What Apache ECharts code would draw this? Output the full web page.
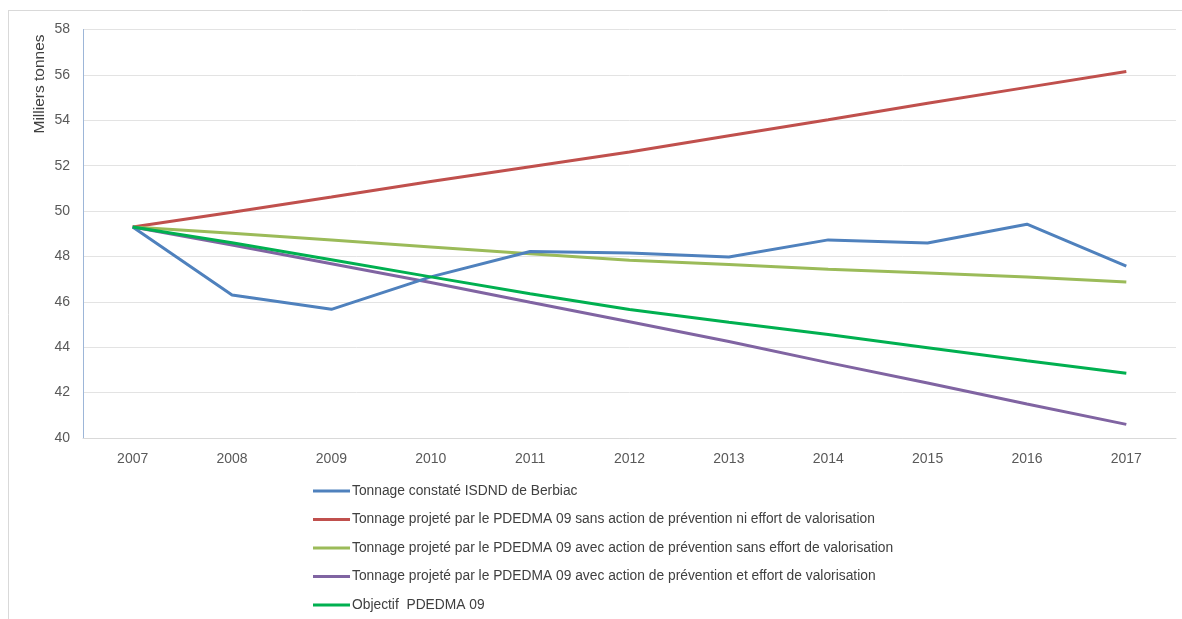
<!DOCTYPE html>
<html>
<head>
<meta charset="utf-8">
<script src="https://cdn.jsdelivr.net/npm/echarts@6/dist/echarts.min.js"></script>
<style>
  html, body { margin: 0; padding: 0; background: #fff; }
  #main { width: 1182px; height: 619px; }
</style>
</head>
<body>
<div id="main"></div>
<script>
// years on the x axis
const years = ['2007', '2008', '2009', '2010', '2011', '2012', '2013', '2014', '2015', '2016', '2017'];

// tonnages (milliers de tonnes)
const constate = [49.3, 46.3, 45.67, 47.1, 48.22, 48.15, 47.98, 48.73, 48.59, 49.42, 47.57];
const sansPrevention = [49.3, 49.95, 50.62, 51.3, 51.95, 52.6, 53.32, 54.02, 54.75, 55.45, 56.15];
const avecPreventionSansEffort = [49.3, 49.02, 48.72, 48.42, 48.12, 47.83, 47.65, 47.44, 47.27, 47.09, 46.87];
const avecPreventionEtEffort = [49.3, 48.5, 47.68, 46.85, 45.98, 45.12, 44.25, 43.32, 42.42, 41.5, 40.6];
const objectif = [49.3, 48.6, 47.85, 47.1, 46.36, 45.66, 45.1, 44.56, 43.98, 43.4, 42.85];

const names = [
  'Tonnage constaté ISDND de Berbiac',
  'Tonnage projeté par le PDEDMA 09 sans action de prévention ni effort de valorisation',
  'Tonnage projeté par le PDEDMA 09 avec action de prévention sans effort de valorisation',
  'Tonnage projeté par le PDEDMA 09 avec action de prévention et effort de valorisation',
  'Objectif  PDEDMA 09'
];
const colors = ['#4F81BD', '#C0504D', '#9BBB59', '#8064A2', '#00B050'];
const values = [constate, sansPrevention, avecPreventionSansEffort, avecPreventionEtEffort, objectif];

const FONT = 'Liberation Sans';

const chart = echarts.init(document.getElementById('main'));

chart.setOption({
  animation: false,
  color: colors,
  textStyle: { fontFamily: FONT },
  graphic: [
    { type: 'line', shape: { x1: 8.5, y1: 10, x2: 8.5, y2: 619 }, style: { stroke: '#d9d9d9', lineWidth: 1 } },
    { type: 'line', shape: { x1: 8, y1: 10.5, x2: 1182, y2: 10.5 }, style: { stroke: '#d9d9d9', lineWidth: 1 } },
    // axis title sits at the top of the y axis in the original
    {
      type: 'text', x: 40, y: 84, rotation: Math.PI / 2,
      style: {
        text: 'Milliers tonnes', fill: '#404040', fontFamily: FONT, fontSize: 15.5,
        align: 'center', verticalAlign: 'middle'
      }
    }
  ],
  grid: { left: 83, right: 6, top: 29.5, bottom: 181 },
  legend: {
    orient: 'vertical',
    left: 308,
    top: 479,
    itemWidth: 37,
    itemHeight: 3,
    itemGap: 14.5,
    icon: 'rect',
    textStyle: { fontSize: 13.8, color: '#404040', padding: [0, 0, 0, -3] },
    data: names
  },
  xAxis: {
    type: 'category',
    data: years,
    boundaryGap: true,
    axisLine: { lineStyle: { color: '#d9d9d9' } },
    axisTick: { show: false },
    axisLabel: { color: '#595959', fontSize: 14, margin: 14 }
  },
  yAxis: {
    type: 'value',
    min: 40,
    max: 58,
    interval: 2,
    axisLine: { show: true, lineStyle: { color: '#9db6d8' } },
    axisTick: { show: false },
    axisLabel: { color: '#595959', fontSize: 14, margin: 13 },
    splitLine: { lineStyle: { color: '#e3e3e3' } }
  },
  series: values.map((d, i) => ({
    name: names[i],
    type: 'line',
    data: d,
    symbol: 'none',
    lineStyle: { width: 3, color: colors[i] },
    z: i === 0 ? 6 : 2 + i
  }))
});
</script>
</body>
</html>
